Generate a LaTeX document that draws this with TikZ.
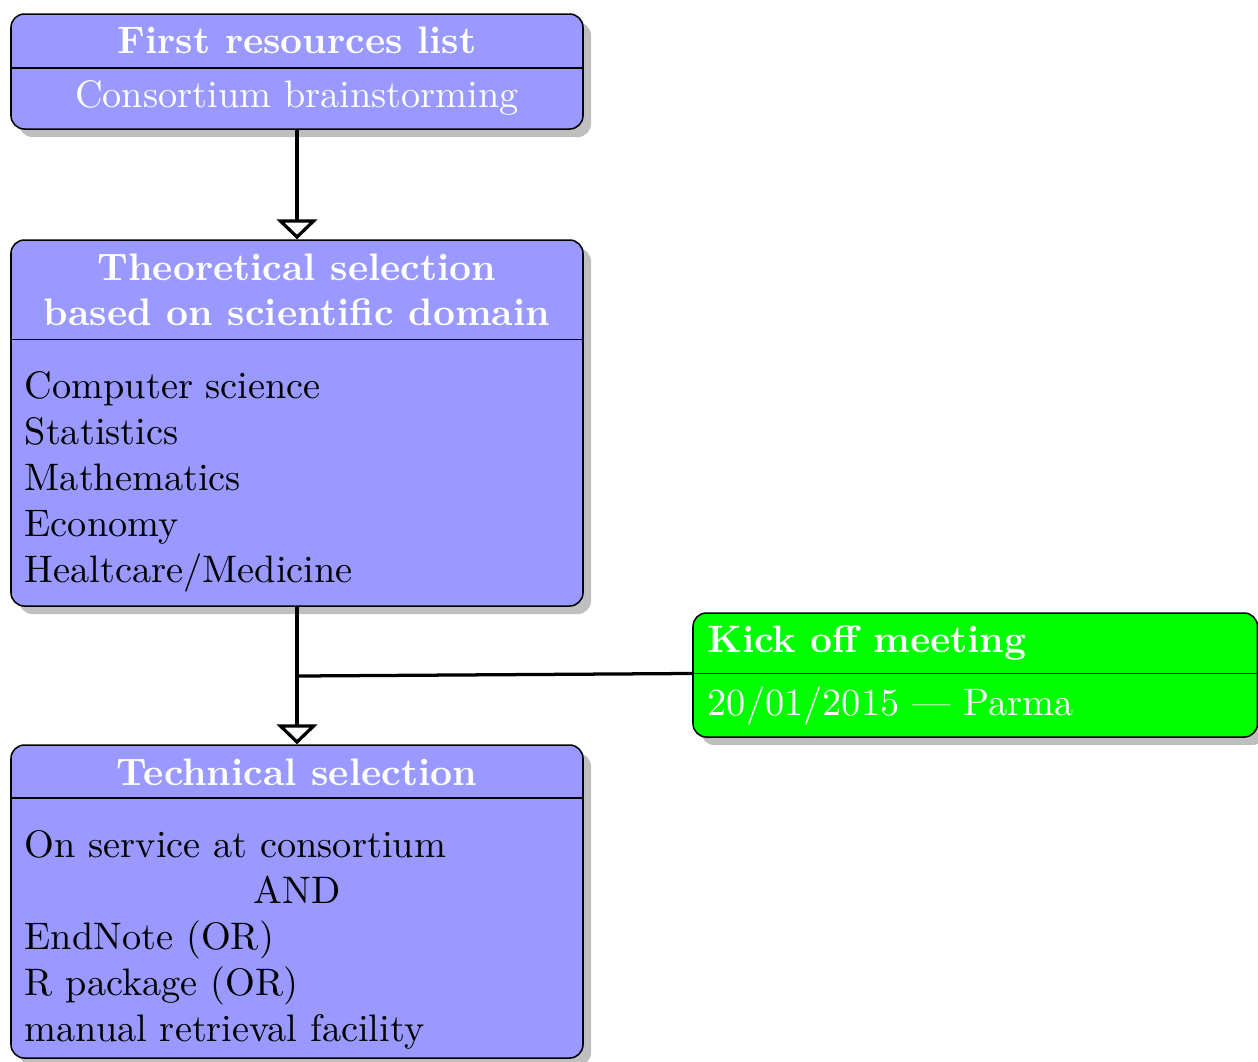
\documentclass[tikz,border=0pt]{standalone}
\usetikzlibrary{arrows.meta,shadows}
\definecolor{boxblue}{rgb}{0.6,0.6,1}
\definecolor{boxgreen}{rgb}{0,1,0}
\def\pxu{0.26089pt}
\tikzset{
  panel/.style={draw=black, line width=0.4pt, rounded corners=3.5pt, inner sep=0pt,
    drop shadow={shadow xshift=2.1pt, shadow yshift=-2.1pt, fill=black!25, opacity=1}},
  bluebox/.style={panel, fill=boxblue},
  greenbox/.style={panel, fill=boxgreen},
  divider/.style={draw=black, line width=0.4pt},
  headtext/.style={anchor=base, inner sep=0pt, text=white, font=\bfseries},
  headleft/.style={anchor=base west, inner sep=0pt, text=white, font=\bfseries},
  subtext/.style={anchor=base, inner sep=0pt, text=white},
  subleft/.style={anchor=base west, inner sep=0pt, text=white},
  itemtext/.style={anchor=base west, inner sep=0pt, text=black},
  flow/.style={draw=black, line width=0.85pt, -{Triangle[open, length=5.2pt, width=10.6pt]}},
  link/.style={draw=black, line width=0.85pt},
}
\begin{document}
\begin{tikzpicture}[x=\pxu, y=-\pxu]
\useasboundingbox (0,0) rectangle (1258,1061);

% stage boxes
\node[bluebox, minimum width=572*\pxu, minimum height=115*\pxu] (first) at (297,71.5) {};
\node[bluebox, minimum width=572*\pxu, minimum height=366*\pxu] (theo) at (297,423) {};
\node[bluebox, minimum width=572*\pxu, minimum height=313*\pxu] (tech) at (297,901.5) {};
\node[greenbox, minimum width=564.5*\pxu, minimum height=124*\pxu] (kick) at (975.25,675) {};

% header separators
\draw[divider] (11,68) -- (583,68);
\draw[divider] (11,339.5) -- (583,339.5);
\draw[divider] (11,798) -- (583,798);
\draw[divider] (693,673.5) -- (1257.5,673.5);

% first box
\node[headtext] (firstT) at (297,53) {First resources list};
\node[subtext] (firstS) at (297,107) {Consortium brainstorming};

% theoretical selection
\node[headtext] (theoT1) at (297,280) {Theoretical selection};
\node[headtext] (theoT2) at (297,325.5) {based on scientific domain};
\node[itemtext] (theoA) at (24,398) {Computer science};
\node[itemtext] (theoB) at (24,444) {Statistics};
\node[itemtext] (theoC) at (24,490) {Mathematics};
\node[itemtext] (theoD) at (24,536) {Economy};
\node[itemtext] (theoE) at (24,582) {Healtcare/Medicine};

% technical selection
\node[headtext] (techT) at (297,785) {Technical selection};
\node[itemtext] (techA) at (24,857) {On service at consortium};
\node[anchor=base, inner sep=0pt] (techB) at (297,903) {AND};
\node[itemtext] (techC) at (24,949) {EndNote (OR)};
\node[itemtext] (techD) at (24,995) {R package (OR)};
\node[itemtext] (techE) at (24,1041) {manual retrieval facility};

% kick off meeting
\node[headleft] (kickT) at (707,652) {Kick off meeting};
\node[subleft] (kickS) at (707,715) {20/01/2015 --- Parma};

% connectors
\draw[flow] (first.south) -- (theo.north);
\draw[flow] (theo.south) -- (tech.north);
\coordinate (join) at (297,676);
\draw[link] ([yshift=0.4pt]kick.west) -- (join);
\end{tikzpicture}
\end{document}
